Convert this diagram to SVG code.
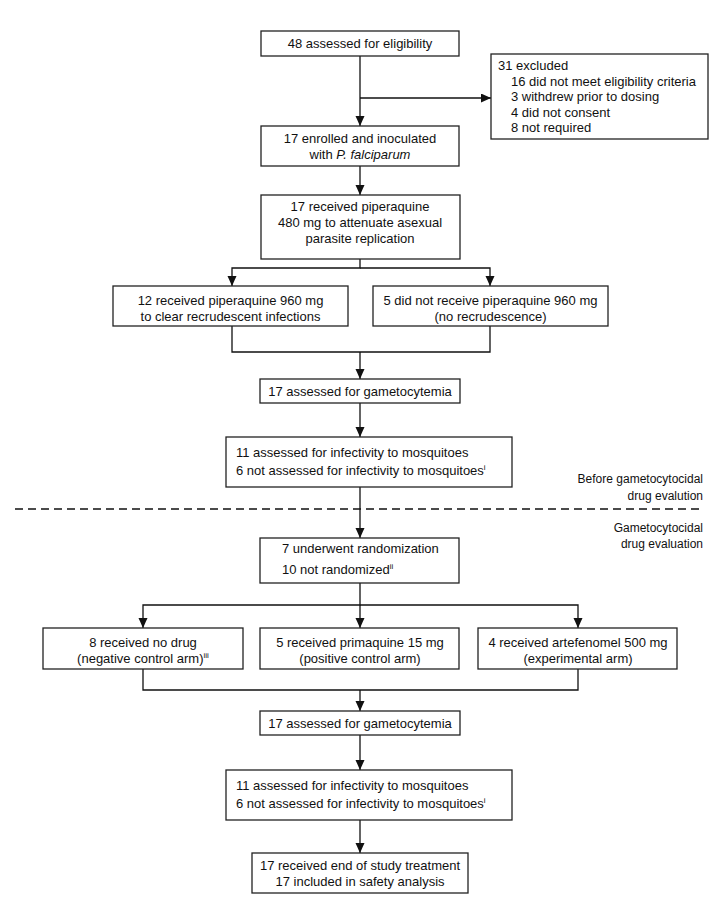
<svg xmlns="http://www.w3.org/2000/svg" width="721" height="915" viewBox="0 0 721 915">
<style>
.box{fill:#fff;stroke:#222;stroke-width:1.3}
.t{font-family:"Liberation Sans",Arial,sans-serif;font-size:13px;fill:#111}
.c{text-anchor:middle}
.s{font-size:12px;text-anchor:end}
.sup{font-size:8px}
.ln{fill:none;stroke:#111;stroke-width:1.3}
</style>
<defs>
<marker id="ah" markerUnits="userSpaceOnUse" markerWidth="10" markerHeight="10" refX="10" refY="4.5" orient="auto">
<path d="M0,0 L10,4.5 L0,9 z" fill="#111"/>
</marker>
</defs>
<rect width="721" height="915" fill="#fff"/>
<g id="connectors">
<path class="ln" d="M360,56 V126" marker-end="url(#ah)"/>
<path class="ln" d="M360,98 H491" marker-end="url(#ah)"/>
<path class="ln" d="M360,166 V195" marker-end="url(#ah)"/>
<path class="ln" d="M360,259 V268 H232 V286" marker-end="url(#ah)"/>
<path class="ln" d="M360,268 H490 V286" marker-end="url(#ah)"/>
<path class="ln" d="M232,326 V352 H490 V326"/>
<path class="ln" d="M360,352 V379" marker-end="url(#ah)"/>
<path class="ln" d="M360,403 V437" marker-end="url(#ah)"/>
<path class="ln" d="M360,487 V538" marker-end="url(#ah)"/>
<path class="ln" d="M360,583 V605 H143 V628" marker-end="url(#ah)"/>
<path class="ln" d="M360,605 V628" marker-end="url(#ah)"/>
<path class="ln" d="M360,605 H578 V628" marker-end="url(#ah)"/>
<path class="ln" d="M143,669 V690 H578 V669"/>
<path class="ln" d="M360,690 V711" marker-end="url(#ah)"/>
<path class="ln" d="M360,735 V770" marker-end="url(#ah)"/>
<path class="ln" d="M360,820 V853" marker-end="url(#ah)"/>
<path d="M15,509 H703" stroke="#111" stroke-width="1.5" stroke-dasharray="8,5" fill="none"/>
</g>
<g id="phase-labels">
<text class="t s" x="703" y="483">Before gametocytocidal</text>
<text class="t s" x="703" y="500">drug evalution</text>
<text class="t s" x="703" y="532">Gametocytocidal</text>
<text class="t s" x="703" y="548">drug evaluation</text>
</g>
<g id="n1">
<rect class="box" x="261" y="31" width="198" height="25"/>
<text class="t c" x="360" y="48">48 assessed for eligibility</text>
</g>
<g id="n-excluded">
<rect class="box" x="491" y="54" width="217" height="85"/>
<text class="t" x="498" y="70">31 excluded</text>
<text class="t" x="511" y="85.5">16 did not meet eligibility criteria</text>
<text class="t" x="511" y="101">3 withdrew prior to dosing</text>
<text class="t" x="511" y="116.5">4 did not consent</text>
<text class="t" x="511" y="132">8 not required</text>
</g>
<g id="n2">
<rect class="box" x="261" y="126" width="198" height="40"/>
<text class="t c" x="360" y="143">17 enrolled and inoculated</text>
<text class="t c" x="360" y="159">with <tspan font-style="italic">P. falciparum</tspan></text>
</g>
<g id="n3">
<rect class="box" x="261" y="195" width="199" height="64"/>
<text class="t c" x="360" y="211">17 received piperaquine</text>
<text class="t c" x="360" y="227">480 mg to attenuate asexual</text>
<text class="t c" x="360" y="243">parasite replication</text>
</g>
<g id="n4a">
<rect class="box" x="113" y="286" width="235" height="40"/>
<text class="t c" x="230.5" y="305">12 received piperaquine 960 mg</text>
<text class="t c" x="230.5" y="321">to clear recrudescent infections</text>
</g>
<g id="n4b">
<rect class="box" x="373" y="286" width="235" height="40"/>
<text class="t c" x="490.5" y="305">5 did not receive piperaquine 960 mg</text>
<text class="t c" x="490.5" y="321">(no recrudescence)</text>
</g>
<g id="n5">
<rect class="box" x="260" y="379" width="200" height="24"/>
<text class="t c" x="360" y="396">17 assessed for gametocytemia</text>
</g>
<g id="n6">
<rect class="box" x="226" y="437" width="286" height="50"/>
<text class="t" x="236" y="457">11 assessed for infectivity to mosquitoes</text>
<text class="t" x="236" y="475">6 not assessed for infectivity to mosquitoes<tspan class="sup" dy="-5">i</tspan></text>
</g>
<g id="n7">
<rect class="box" x="260" y="538" width="199" height="45"/>
<text class="t" x="282" y="553">7 underwent randomization</text>
<text class="t" x="282" y="574">10 not randomized<tspan class="sup" dy="-5">ii</tspan></text>
</g>
<g id="n8a">
<rect class="box" x="43" y="628" width="200" height="41"/>
<text class="t c" x="143" y="647">8 received no drug</text>
<text class="t c" x="143" y="663">(negative control arm)<tspan class="sup" dy="-5">iii</tspan></text>
</g>
<g id="n8b">
<rect class="box" x="260" y="628" width="199" height="41"/>
<text class="t c" x="360" y="647">5 received primaquine 15 mg</text>
<text class="t c" x="360" y="663">(positive control arm)</text>
</g>
<g id="n8c">
<rect class="box" x="478" y="628" width="199" height="41"/>
<text class="t c" x="578" y="647">4 received artefenomel 500 mg</text>
<text class="t c" x="578" y="663">(experimental arm)</text>
</g>
<g id="n9">
<rect class="box" x="260" y="711" width="200" height="24"/>
<text class="t c" x="360" y="728">17 assessed for gametocytemia</text>
</g>
<g id="n10">
<rect class="box" x="226" y="770" width="286" height="50"/>
<text class="t" x="236" y="790">11 assessed for infectivity to mosquitoes</text>
<text class="t" x="236" y="808">6 not assessed for infectivity to mosquitoes<tspan class="sup" dy="-5">i</tspan></text>
</g>
<g id="n11">
<rect class="box" x="252" y="853" width="216" height="40"/>
<text class="t c" x="360" y="870">17 received end of study treatment</text>
<text class="t c" x="360" y="886">17 included in safety analysis</text>
</g>
</svg>
